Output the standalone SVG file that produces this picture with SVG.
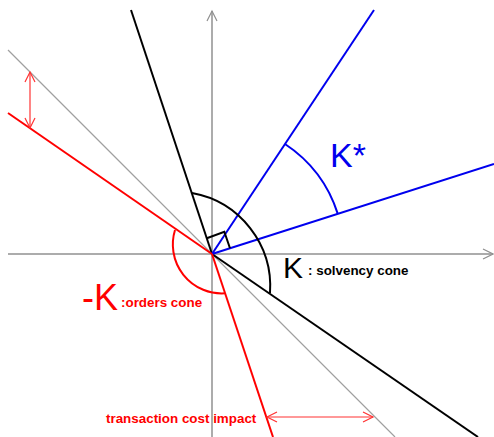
<svg xmlns="http://www.w3.org/2000/svg" width="494" height="437" viewBox="0 0 494 437">
<style>
.axis{stroke:#909090;stroke-width:1.5;fill:none}
.diag{stroke:#a0a0a0;stroke-width:1.2;fill:none}
.blk{stroke:#000;stroke-width:2;fill:none}
.blu{stroke:#0000ee;stroke-width:2;fill:none}
.red{stroke:#f00;stroke-width:2;fill:none}
.redthin{stroke:#f33;stroke-width:1.2;fill:none}
.lbl{font-family:"Liberation Sans",Arial,sans-serif;font-weight:bold;font-size:13.4px}
.big{font-family:"Liberation Sans",Arial,sans-serif}
</style>
<defs>
<marker id="ga" markerWidth="12" markerHeight="12" refX="10" refY="5" orient="auto" markerUnits="userSpaceOnUse" overflow="visible">
<path d="M0,0 L10,5 L0,10" fill="none" stroke="#909090" stroke-width="1.2"/>
</marker>
<marker id="ra" markerWidth="12" markerHeight="12" refX="10" refY="5" orient="auto-start-reverse" markerUnits="userSpaceOnUse" overflow="visible">
<path d="M0,0 L10,5 L0,10" fill="none" stroke="#f33" stroke-width="1.2"/>
</marker>
</defs>
<g id="connectors">
<line id="x-axis" class="axis" x1="8" y1="254" x2="493" y2="254" marker-end="url(#ga)"/>
<line id="y-axis" class="axis" x1="212" y1="437" x2="212" y2="11" marker-end="url(#ga)"/>
<line id="diag45" class="diag" x1="8" y1="50" x2="395" y2="437"/>
<line id="k-upper" class="blk" x1="131" y1="10" x2="212" y2="254"/>
<line id="k-lower" class="blk" x1="212" y1="254" x2="478" y2="437"/>
<line id="ks-upper" class="blu" x1="212" y1="254" x2="374" y2="10"/>
<line id="ks-lower" class="blu" x1="212" y1="254" x2="494" y2="164"/>
<line id="mk-upper" class="red" x1="8" y1="113" x2="212" y2="254"/>
<line id="mk-lower" class="red" x1="212" y1="254" x2="273" y2="437"/>
<line id="tc-vert" class="redthin" x1="30" y1="72" x2="30" y2="128" marker-start="url(#ra)" marker-end="url(#ra)"/>
<line id="tc-horiz" class="redthin" x1="267" y1="417" x2="373" y2="417" marker-start="url(#ra)" marker-end="url(#ra)"/>
</g>
<g id="k-arc"><path class="blk" d="M192,193 A95,95 0 0 1 270,293"/></g>
<g id="right-angle"><path class="blk" d="M206.8,238.3 L224.3,231.7 L230,248.3" stroke-width="1.6"/></g>
<g id="ks-arc"><path class="blu" d="M285,144 A132,132 0 0 1 337.8,213.9"/></g>
<g id="mk-arc"><path class="red" d="M175,230 A49,49 0 0 0 225,293.3"/></g>
<g id="label-kstar"><text class="big" x="330" y="167" font-size="34" fill="#0000ee">K*</text></g>
<g id="label-k"><text class="big" x="283" y="278" font-size="30" fill="#000">K</text><text class="lbl" x="308" y="275" fill="#000">: solvency cone</text></g>
<g id="label-mk"><text class="big" x="82" y="310" font-size="36" fill="#f00">-K</text><text class="lbl" x="121" y="307" fill="#f00">:orders cone</text></g>
<g id="label-tc"><text class="lbl" x="106" y="423" fill="#f00">transaction cost impact</text></g>
</svg>
